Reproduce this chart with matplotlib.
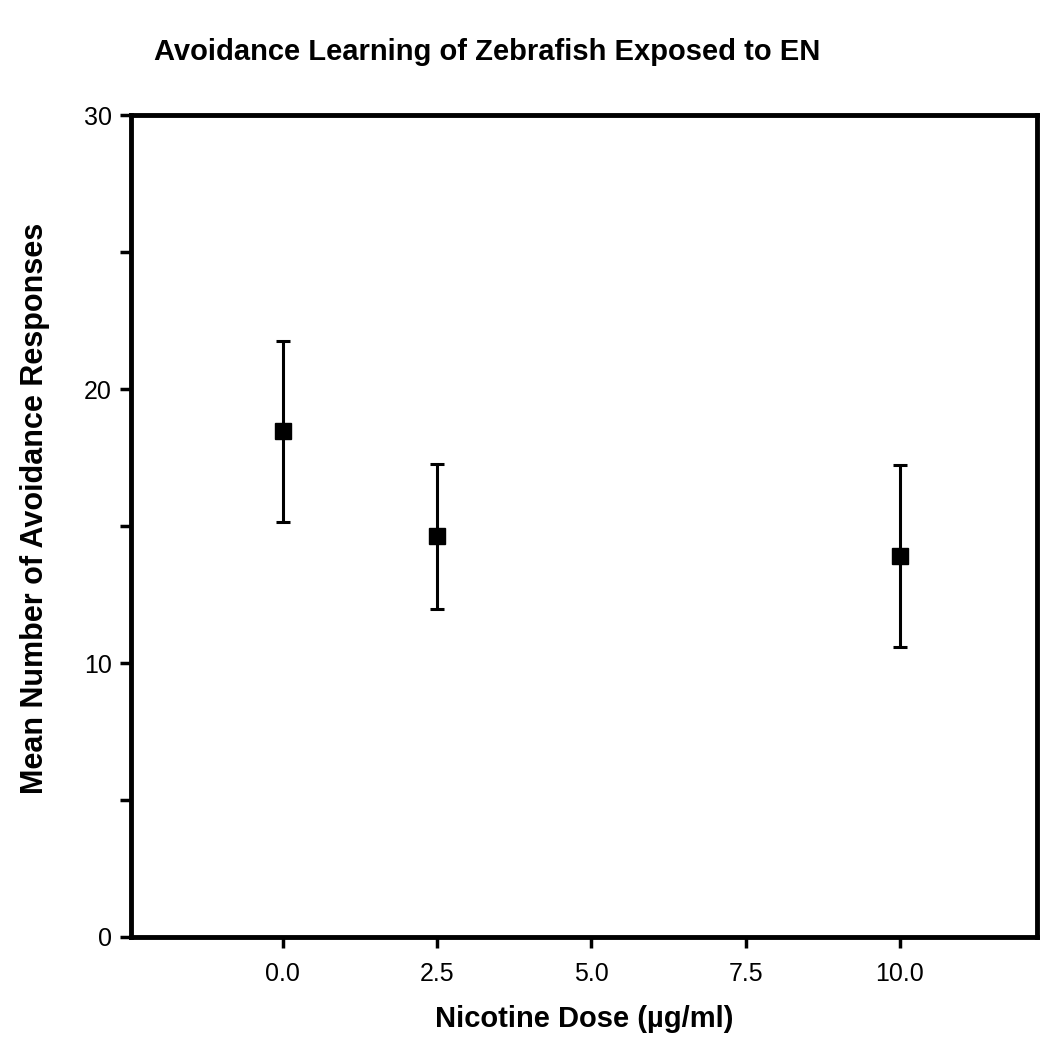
import matplotlib
matplotlib.use("Agg")
import matplotlib.pyplot as plt

# nicotine dose (ug/ml), mean avoidance responses, error (+/-)
doses = [0.0, 2.5, 10.0]
means = [18.45, 14.62, 13.92]
errors = [3.32, 2.66, 3.32]

xticks = [0.0, 2.5, 5.0, 7.5, 10.0]
xtick_labels = ["0.0", "2.5", "5.0", "7.5", "10.0"]
yticks = [0, 5, 10, 15, 20, 25, 30]
ytick_labels = ["0", "", "10", "", "20", "", "30"]

plt.rcParams["font.family"] = ["Liberation Sans", "DejaVu Sans"]

fig = plt.figure(figsize=(10.46, 10.44), dpi=100)
ax = fig.add_axes([0.1252, 0.1025, 0.8662, 0.7873])

ax.errorbar(doses, means, yerr=errors, fmt="s", color="black", ms=12,
            elinewidth=2.2, capsize=5, capthick=2.2, mec="black", mfc="black")

ax.set_xlim(-2.46, 12.22)
ax.set_ylim(0, 30)
ax.set_xticks(xticks)
ax.set_xticklabels(xtick_labels)
ax.set_yticks(yticks)
ax.set_yticklabels(ytick_labels)

for s in ax.spines.values():
    s.set_linewidth(3.5)
ax.tick_params(direction="out", length=8, width=2.5, labelsize=18)
ax.tick_params(axis="x", pad=10)
ax.tick_params(axis="y", pad=6)

ax.set_xlabel("Nicotine Dose (µg/ml)", fontsize=21, fontweight="bold", labelpad=14)
fig.text(0.033, 0.513, "Mean Number of Avoidance Responses", rotation=90,
         ha="center", va="center", fontsize=22, fontweight="bold")
fig.text(0.466, 0.95, "Avoidance Learning of Zebrafish Exposed to EN",
         ha="center", va="center", fontsize=21, fontweight="bold")

fig.savefig("out.png", dpi=100)
